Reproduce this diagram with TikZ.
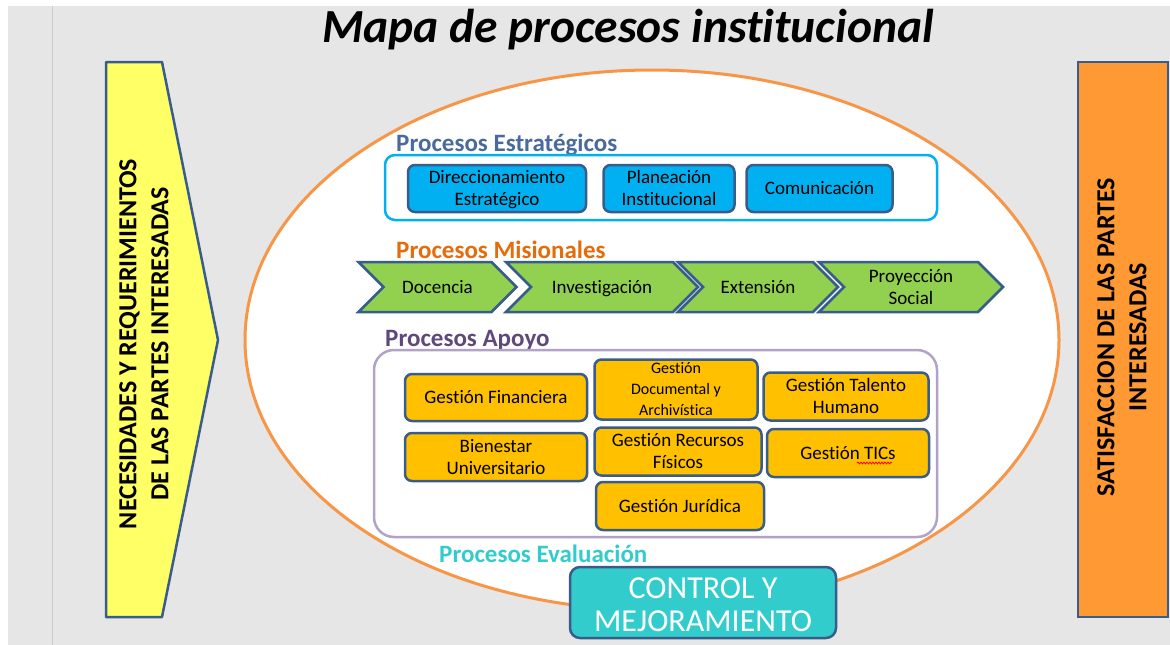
\documentclass[tikz,border=0pt]{standalone}
\usepackage{fontspec}
\setmainfont{Carlito}[Ligatures = {NoCommon, NoRequired, NoContextual}]
\usetikzlibrary{shapes.symbols, decorations.pathmorphing}

\definecolor{fondo}{HTML}{E6E6E6}
\definecolor{borde}{HTML}{385D8A}
\definecolor{amarillo}{HTML}{FFFF66}
\definecolor{naranja}{HTML}{FF9933}
\definecolor{elipse}{HTML}{F79646}
\definecolor{azul}{HTML}{00B0F0}
\definecolor{azultexto}{HTML}{4A6A9E}
\definecolor{verde}{HTML}{92D050}
\definecolor{misiontexto}{HTML}{E46C0A}
\definecolor{morado}{HTML}{5F497A}
\definecolor{lila}{HTML}{B3A2C7}
\definecolor{ambar}{HTML}{FFC000}
\definecolor{turquesa}{HTML}{33CCCC}

\begin{document}
\begin{tikzpicture}[
    x = 1pt,
    y = -1pt,
    every node/.style = {inner sep = 0pt, align = center},
    unalinea/.style = {text height = 17pt, text depth = 4.8pt},
    doslineas/.style = {text height = 39pt, text depth = 4.8pt},
    caja/.style = {draw = borde, line width = 2.5pt, rounded corners = 7pt,
      font = \fontsize{19}{22}\selectfont},
    estrategico/.style = {caja, fill = azul},
    apoyo/.style = {caja, fill = ambar},
    misional/.style = {signal, signal from = west, signal to = east,
      signal pointer angle = 90, draw = borde, line width = 2.5pt,
      fill = verde, minimum height = 50pt, font = \fontsize{19}{22}\selectfont},
    grupo/.style = {line width = 2.5pt, rounded corners = 14pt},
    rotulo/.style = {anchor = west, font = \fontsize{25}{28}\selectfont\bfseries},
    lateral/.style = {rotate = 90, font = \fontsize{26}{32}\selectfont\bfseries}
  ]
    \useasboundingbox (0,0) rectangle (1170,645);
    \fill[white] (0,0) rectangle (1170,645);
    \fill[fondo] (8,6) rectangle (1170,645);
    \draw[black!20, line width = 1pt] (52,6) -- (52,645);

    \node[font = \fontsize{47.5}{52}\selectfont\bfseries\itshape] (titulo) at (628,30)
      {Mapa de procesos institucional};

    % entradas y salidas
    \draw[fill = amarillo, draw = borde, line width = 2.5pt, line join = round]
      (106,62) -- (162,62) -- (218,340) -- (162,617) -- (106,617) -- cycle;
    \node[lateral] (necesidades) at (144,344)
      {NECESIDADES Y REQUERIMIENTOS\\DE LAS PARTES INTERESADAS};
    \draw[fill = naranja, draw = borde, line width = 2.5pt] (1078,62) rectangle (1168,617);
    \node[lateral] (satisfaccion) at (1122,337)
      {SATISFACCION DE LAS PARTES\\INTERESADAS};

    \draw[fill = white, draw = elipse, line width = 3pt] (652,340) ellipse [x radius = 407, y radius = 270];

    % estrategicos
    \node[rotulo, text = azultexto] (lbl_estrategicos) at (396,145) {Procesos Estratégicos};
    \draw[grupo, draw = azul, rounded corners = 10pt] (385,155) rectangle (937,220);
    \node[estrategico, doslineas, minimum width = 178pt, minimum height = 47pt] (direccionamiento) at (497,188.5)
      {Direccionamiento\\Estratégico};
    \node[estrategico, doslineas, minimum width = 131pt, minimum height = 47pt] (planeacion) at (669,188.5)
      {Planeación\\Institucional};
    \node[estrategico, unalinea, minimum width = 146pt, minimum height = 47pt] (comunicacion) at (819.5,188.5)
      {Comunicación};

    % misionales
    \node[rotulo, text = misiontexto] (lbl_misionales) at (396,250) {Procesos Misionales};
    \node[misional, unalinea, minimum width = 158pt] (docencia) at (437.5,287) {Docencia};
    \node[misional, unalinea, minimum width = 192pt] (investigacion) at (602,287) {Investigación};
    \node[misional, unalinea, minimum width = 160pt] (extension) at (758,287) {Extensión};
    \node[misional, doslineas, minimum width = 184pt] (proyeccion) at (911,287) {Proyección\\Social};

    % apoyo
    \node[rotulo, text = morado] (lbl_apoyo) at (385,340) {Procesos Apoyo};
    \draw[grupo, draw = lila, rounded corners = 20pt] (374,350) rectangle (937,537);
    \node[apoyo, unalinea, minimum width = 182pt, minimum height = 47pt] (financiera) at (496,397.5) {Gestión Financiera};
    \node[apoyo, minimum width = 163pt, minimum height = 60pt, text height = 56pt, text depth = 4pt,
      font = \fontsize{16}{21}\selectfont] (documental) at (676,389.5) {Gestión\\Documental y\\Archivística};
    \node[apoyo, doslineas, minimum width = 165pt, minimum height = 48pt] (talento) at (846,396.5) {Gestión Talento\\Humano};
    \node[apoyo, doslineas, minimum width = 182pt, minimum height = 48pt] (bienestar) at (496,457) {Bienestar\\Universitario};
    \node[apoyo, doslineas, minimum width = 167pt, minimum height = 48pt] (recursos) at (678,451.5) {Gestión Recursos\\Físicos};
    \node[apoyo, unalinea, minimum width = 162pt, minimum height = 48pt] (tics) at (848,453) {Gestión TICs};
    \draw[red, line width = 0.8pt, decorate,
      decoration = {snake, amplitude = 0.9pt, segment length = 3pt}]
      ([xshift = 9pt, yshift = -10pt]tics.center) -- ([xshift = 44pt, yshift = -10pt]tics.center);
    \node[apoyo, unalinea, minimum width = 168pt, minimum height = 48pt] (juridica) at (680,506) {Gestión Jurídica};

    % evaluacion
    \node[rotulo, text = turquesa] (lbl_evaluacion) at (439,554) {Procesos Evaluación};
    \node[draw = borde, line width = 2.5pt, fill = turquesa, text = white,
      minimum width = 266pt, minimum height = 71pt, rounded corners = 10pt,
      text height = 57.6pt, text depth = 0pt,
      font = \fontsize{32}{33}\selectfont] (control) at (703,602.5)
      {CONTROL Y\\MEJORAMIENTO};
  \end{tikzpicture}
\end{document}
